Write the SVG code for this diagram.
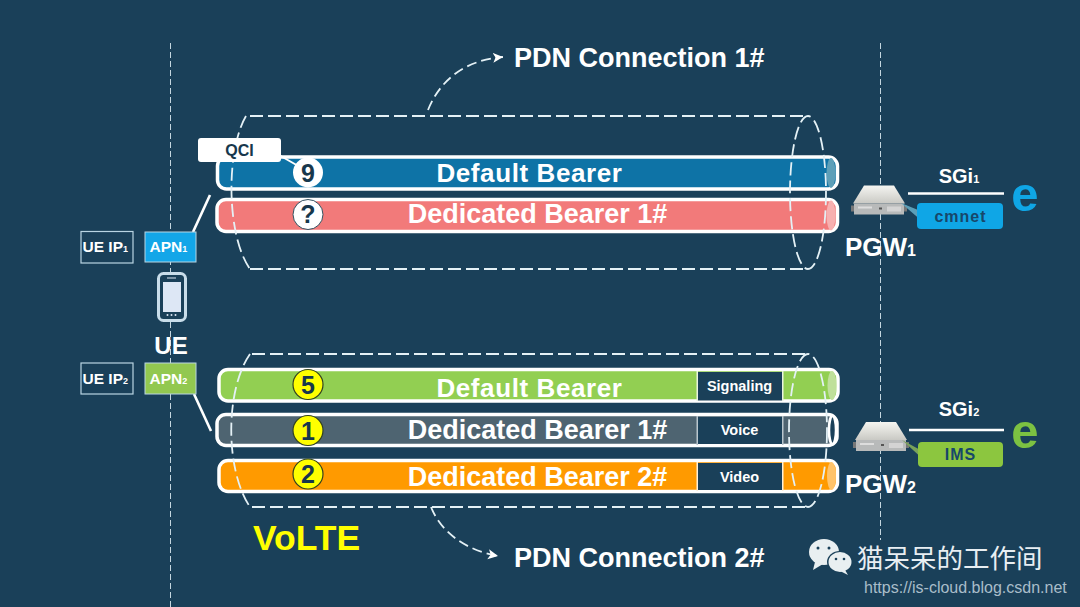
<svg xmlns="http://www.w3.org/2000/svg" width="1080" height="607" viewBox="0 0 1080 607">
<style>
text{font-family:"Liberation Sans",Arial,sans-serif;font-weight:700;fill:#fff}
.m{text-anchor:middle}
.bar{stroke:#fff;stroke-width:3.5}
.dash{fill:none;stroke:#e4f1f6;stroke-width:1.8;stroke-dasharray:13 5}
.guide{stroke:#c4d6df;stroke-width:1;stroke-dasharray:6 3}
.line{stroke:#fff;stroke-width:2.6;fill:none}
.num{font-size:25px;fill:#17374c;text-anchor:middle}
.badge{fill:#ffff00;stroke:#33421f;stroke-width:1.2}
.bn{font-size:27px}
.bd{font-size:26px;letter-spacing:.6px}
.tag{fill:#1a4059;stroke:none}
.ts{font-size:14.5px;text-anchor:middle}
.ip{fill:none;stroke:#b9d5e3;stroke-width:1.2}
.sub{font-size:9px}
</style>
<defs>
<marker id="ah" markerWidth="12" markerHeight="12" refX="10" refY="5" orient="auto" markerUnits="userSpaceOnUse"><path d="M0 0L10 5L0 10L2.500 5Z" fill="#fff"/></marker>
<linearGradient id="srv" x1="0" y1="0" x2="0" y2="1"><stop offset="0" stop-color="#f5f5f1"/><stop offset="1" stop-color="#c9c9c4"/></linearGradient>
<g id="server">
<path d="M11 0H41L52 18H0Z" fill="url(#srv)"/>
<rect x="1" y="18" width="50" height="11" fill="#b8baba"/>
<rect x="-2" y="20" width="3" height="6" fill="#777"/>
<rect x="51" y="20" width="3" height="6" fill="#777"/>
<rect x="5" y="21" width="14" height="2" fill="#ddd"/><rect x="26" y="22" width="3" height="2" fill="#555"/><rect x="34" y="21" width="14" height="5" fill="#d4d4d4"/>
</g>
</defs>
<rect width="1080" height="607" fill="#1a4059"/>
<g id="guides">
<line class="guide" x1="170.500" y1="43" x2="170.500" y2="607"/>
<line class="guide" x1="880.500" y1="43" x2="880.500" y2="540"/>
</g>
<g id="bearer-default-1">
<rect class="bar" x="217.500" y="157" width="620" height="32" rx="9" fill="#0e73a6"/>
<ellipse cx="831" cy="173" rx="4.500" ry="15" fill="#5d9fb8"/>
<text class="bd m" x="529.500" y="182">Default Bearer</text>
</g>
<g id="bearer-dedicated-1">
<rect class="bar" x="217" y="199.500" width="620.500" height="32" rx="9" fill="#f27a7a"/>
<ellipse cx="831" cy="215.500" rx="4.500" ry="15" fill="#f7b0b0"/>
<text class="bn m" x="537.500" y="223">Dedicated Bearer 1#</text>
</g>
<g id="bearer-default-2">
<rect class="bar" x="219" y="369.500" width="619" height="31.500" rx="9" fill="#92cf52"/>
<ellipse cx="832" cy="385.500" rx="4.500" ry="14.500" fill="#bfe09a"/>
<rect class="tag" x="697.500" y="372" width="84.500" height="28.500"/>
<rect x="696.500" y="371" width="1.500" height="30" fill="#e9f3df"/><rect x="782" y="371" width="1.500" height="30" fill="#e9f3df"/>
<text class="bd m" x="529.500" y="397">Default Bearer</text>
<text class="ts" x="739.500" y="391">Signaling</text>
</g>
<g id="bearer-dedicated-2">
<rect class="bar" x="217" y="414.500" width="620" height="31" rx="9" fill="#4e6471"/>
<ellipse cx="832.500" cy="430" rx="3.500" ry="14" fill="#1a4059" stroke="#fff" stroke-width="2.500"/>
<rect class="tag" x="697.500" y="417" width="84.500" height="27"/>
<rect x="696.500" y="416" width="1.500" height="29" fill="#b9c6cd"/><rect x="782" y="416" width="1.500" height="29" fill="#b9c6cd"/>
<text class="bn m" x="537.500" y="439">Dedicated Bearer 1#</text>
<text class="ts" x="739.500" y="435">Voice</text>
</g>
<g id="bearer-dedicated-3">
<rect class="bar" x="219" y="460.500" width="618.500" height="31" rx="9" fill="#ff9a00"/>
<ellipse cx="831.500" cy="476" rx="4.500" ry="14" fill="#ffc36a"/>
<rect class="tag" x="697.500" y="463" width="84.500" height="27"/>
<rect x="696.500" y="462" width="1.500" height="29" fill="#fff0d8"/><rect x="782" y="462" width="1.500" height="29" fill="#fff0d8"/>
<text class="bn m" x="537.500" y="486">Dedicated Bearer 2#</text>
<text class="ts" x="739.500" y="482">Video</text>
</g>
<g id="connectors">
<path class="dash" d="M250 116H808M250 269H808"/>
<path class="dash" d="M246 116C226 150 226 235 250 269"/>
<ellipse class="dash" cx="808" cy="192.500" rx="18" ry="76.500"/>
<path class="dash" d="M252 354H808M252 507H808"/>
<path class="dash" d="M250 354C225 390 225 470 250 507"/>
<ellipse class="dash" cx="808" cy="430.500" rx="19" ry="76.500"/>
<path d="M428 110C440 80 465 60 503 57" fill="none" stroke="#e4f1f6" stroke-width="1.800" stroke-dasharray="10 5" marker-end="url(#ah)"/>
<path d="M431 507C441 532 465 550 498 556" fill="none" stroke="#e4f1f6" stroke-width="1.800" stroke-dasharray="10 5" marker-end="url(#ah)"/>
<line class="line" x1="193" y1="232" x2="210" y2="195"/>
<line class="line" x1="194" y1="394" x2="211" y2="431"/>
<line class="line" x1="908" y1="193.500" x2="1004" y2="193.500"/>
<line class="line" x1="909" y1="430" x2="1004" y2="430"/>
<path d="M279 155L300 167" stroke="#fff" stroke-width="2" fill="none"/>
</g>
<g id="qci">
<rect x="198" y="138" width="83" height="24" rx="3" fill="#fff"/>
<text class="m" x="239.500" y="156" font-size="16" style="fill:#17374c">QCI</text>
</g>
<g id="badge-9"><circle cx="308" cy="172.500" r="15" fill="#fff"/><text class="num" x="308" y="181.500">9</text></g>
<g id="badge-q"><circle cx="308" cy="214.500" r="15" fill="#fff" stroke="#33505f" stroke-width="1"/><text class="num" x="308" y="223">?</text></g>
<g id="badge-5"><circle class="badge" cx="308" cy="384.500" r="15"/><text class="num" x="308" y="393.500">5</text></g>
<g id="badge-1"><circle class="badge" cx="308" cy="430.500" r="15"/><text class="num" x="308" y="439.500">1</text></g>
<g id="badge-2"><circle class="badge" cx="308" cy="474" r="15"/><text class="num" x="308" y="483">2</text></g>
<g id="ue">
<rect x="158.500" y="273.500" width="27" height="47" rx="5" fill="#1a4059" stroke="#c9ddea" stroke-width="3"/>
<rect x="163" y="282" width="18" height="30" fill="#dde7f5"/>
<rect x="167" y="277.500" width="9" height="1" fill="#dde7f5"/>
<circle cx="167.500" cy="315" r="1" fill="#dde7f5"/><circle cx="171.500" cy="315" r="1" fill="#dde7f5"/><circle cx="175.500" cy="315" r="1" fill="#dde7f5"/>
<text class="m" x="171" y="354" font-size="24">UE</text>
</g>
<g id="ue-ip-1"><rect class="ip" x="81" y="231.500" width="52" height="31.500"/><text x="82.500" y="252" font-size="15.500">UE IP<tspan class="sub">1</tspan></text></g>
<g id="apn-1"><rect x="145" y="232" width="51" height="30" fill="#13a6e8" stroke="#b9d5e3" stroke-width="1"/><text x="149.500" y="252" font-size="15.500">APN<tspan class="sub">1</tspan></text></g>
<g id="ue-ip-2"><rect class="ip" x="81" y="363" width="52" height="31"/><text x="82.500" y="384" font-size="15.500">UE IP<tspan class="sub">2</tspan></text></g>
<g id="apn-2"><rect x="145" y="363" width="51" height="31" fill="#92c850" stroke="#b9d5e3" stroke-width="1"/><text x="149.500" y="384" font-size="15.500">APN<tspan class="sub">2</tspan></text></g>
<g id="pgw-1">
<use href="#server" x="853" y="185.500"/>
<path d="M901 203L923 212V222Z" fill="#5c9fb8"/>
<rect x="917" y="203" width="86" height="26" rx="4" fill="#0fa6e6"/>
<text class="m" x="960.500" y="222" font-size="16" letter-spacing="1" style="fill:#17476a">cmnet</text>
<text x="845" y="256" font-size="26">PGW<tspan font-size="16">1</tspan></text>
<text class="m" x="959" y="183" font-size="20">SGi<tspan font-size="11">1</tspan></text>
<text class="m" x="1025" y="211" font-size="49" style="fill:#0fa6e6">e</text>
</g>
<g id="pgw-2">
<use href="#server" x="855" y="422"/>
<path d="M902 440L924 452V460Z" fill="#7aa35a"/>
<rect x="918" y="442" width="85" height="25" rx="4" fill="#8cc63f"/>
<text class="m" x="960.500" y="460" font-size="16" letter-spacing="1" style="fill:#17476a">IMS</text>
<text x="845" y="493" font-size="26">PGW<tspan font-size="16">2</tspan></text>
<text class="m" x="959" y="416" font-size="20">SGi<tspan font-size="11">2</tspan></text>
<text class="m" x="1025" y="448" font-size="49" style="fill:#7cc142">e</text>
</g>
<g id="label-pdn-1"><text x="514" y="67" font-size="27">PDN Connection 1#</text></g>
<g id="label-pdn-2"><text x="514" y="567" font-size="27">PDN Connection 2#</text></g>
<g id="label-volte"><text x="253" y="550" font-size="35.500" style="fill:#ffff00">VoLTE</text></g>
<g id="watermark">
<ellipse cx="824" cy="552" rx="15" ry="13" fill="#e9eff1"/>
<path d="M815 562L813 570L823 564Z" fill="#e9eff1"/>
<ellipse cx="840" cy="562" rx="13" ry="11" fill="#1a4059"/>
<ellipse cx="840" cy="562" rx="11.500" ry="10" fill="#e9eff1"/>
<path d="M845 570L848 575L840 571Z" fill="#e9eff1"/>
<circle cx="818" cy="548" r="1.500" fill="#1a4059"/><circle cx="829" cy="548" r="1.500" fill="#1a4059"/>
<circle cx="836" cy="559" r="1.300" fill="#1a4059"/><circle cx="844" cy="559" r="1.300" fill="#1a4059"/>
<text x="857" y="568" font-size="26.500" style="font-family:'Noto Sans CJK SC','Liberation Sans',sans-serif;font-weight:400;fill:#e8eef2">猫呆呆的工作间</text>
<text x="864" y="593" font-size="16" style="font-weight:400;fill:#a9bdc9">https://is-cloud.blog.csdn.net</text>
</g>
</svg>
